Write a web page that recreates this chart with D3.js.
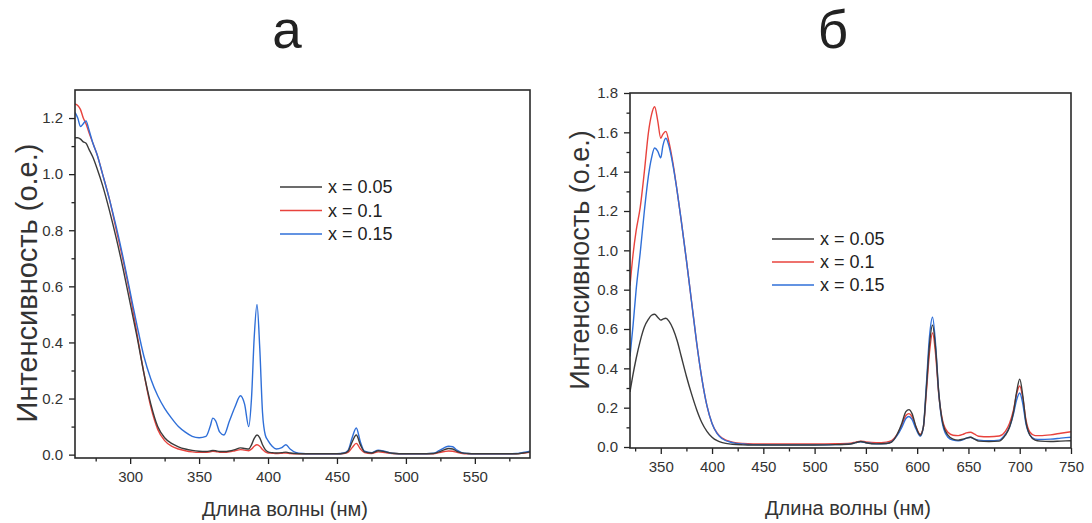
<!DOCTYPE html>
<html>
<head>
<meta charset="utf-8">
<script src="https://cdn.jsdelivr.net/npm/d3@7"></script>
<style>
  html, body { margin: 0; padding: 0; background: #fff; }
  svg { display: block; font-family: "Liberation Sans", Arial, sans-serif; }
</style>
</head>
<body>
<svg id="fig" width="1092" height="523"></svg>
<script>
// ---------- Panel а: excitation spectra (260–590 nm) ----------
const waveA = [260,262,264,266,268,270,273,276,280,285,290,295,300,305,310,315,320,325,330,335,340,345,350,355,358,360,362,365,368,372,376,380,383,386,388,390,392,394,396,398,400,403,406,410,413,416,420,425,430,440,450,455,458,461,464,467,470,475,480,485,490,500,510,520,524,528,531,534,537,540,545,550,560,570,580,585,590];
const a005 = [1.13,1.13,1.125,1.115,1.11,1.09,1.06,1.02,0.96,0.87,0.77,0.66,0.54,0.42,0.29,0.18,0.10,0.06,0.04,0.028,0.02,0.015,0.012,0.011,0.013,0.015,0.014,0.011,0.011,0.013,0.018,0.024,0.022,0.02,0.035,0.058,0.07,0.06,0.035,0.018,0.01,0.007,0.006,0.007,0.009,0.006,0.004,0.003,0.003,0.003,0.003,0.005,0.012,0.045,0.07,0.035,0.01,0.006,0.014,0.01,0.005,0.003,0.003,0.004,0.01,0.018,0.022,0.02,0.012,0.007,0.004,0.003,0.003,0.003,0.003,0.006,0.01];
const a010 = [1.25,1.245,1.23,1.2,1.18,1.15,1.11,1.07,1.0,0.91,0.8,0.69,0.57,0.43,0.29,0.17,0.09,0.05,0.03,0.02,0.014,0.01,0.008,0.008,0.01,0.012,0.011,0.008,0.008,0.01,0.014,0.018,0.016,0.014,0.02,0.03,0.035,0.03,0.018,0.01,0.006,0.005,0.004,0.005,0.006,0.004,0.003,0.003,0.003,0.003,0.003,0.004,0.008,0.025,0.04,0.02,0.007,0.004,0.01,0.007,0.004,0.003,0.003,0.003,0.007,0.011,0.013,0.012,0.008,0.005,0.003,0.003,0.003,0.003,0.003,0.005,0.008];
const a015 = [1.22,1.2,1.17,1.18,1.19,1.16,1.11,1.07,1.0,0.91,0.81,0.7,0.58,0.46,0.35,0.27,0.21,0.165,0.13,0.1,0.08,0.065,0.06,0.065,0.1,0.13,0.12,0.08,0.07,0.12,0.17,0.21,0.18,0.1,0.2,0.42,0.535,0.38,0.15,0.07,0.05,0.03,0.02,0.025,0.035,0.02,0.008,0.004,0.003,0.003,0.003,0.006,0.015,0.06,0.095,0.045,0.012,0.007,0.016,0.011,0.005,0.003,0.003,0.005,0.014,0.025,0.03,0.028,0.016,0.008,0.004,0.003,0.003,0.003,0.004,0.008,0.012];

// ---------- Panel б: emission spectra (320–750 nm) ----------
const waveB = [320,323,326,330,334,338,341,344,347,350,352,355,358,362,366,370,375,380,385,390,395,400,405,410,420,430,440,460,480,500,520,535,540,545,550,560,570,575,580,585,589,592,595,599,603,606,609,612,615,618,621,625,630,635,640,645,648,652,656,660,670,680,686,690,694,697,700,703,706,710,715,720,730,740,750];
const b005 = [0.28,0.37,0.45,0.54,0.61,0.65,0.67,0.675,0.66,0.645,0.65,0.655,0.64,0.6,0.54,0.46,0.36,0.27,0.19,0.125,0.08,0.05,0.032,0.022,0.014,0.011,0.01,0.01,0.01,0.01,0.012,0.015,0.022,0.028,0.022,0.016,0.018,0.025,0.06,0.12,0.18,0.19,0.17,0.1,0.06,0.1,0.3,0.52,0.62,0.5,0.28,0.12,0.06,0.04,0.035,0.04,0.045,0.05,0.04,0.03,0.028,0.03,0.06,0.1,0.18,0.28,0.345,0.26,0.13,0.06,0.035,0.03,0.028,0.03,0.032];
const b010 = [0.82,0.98,1.1,1.22,1.4,1.6,1.69,1.73,1.66,1.57,1.59,1.605,1.55,1.44,1.3,1.15,0.95,0.74,0.53,0.35,0.21,0.12,0.07,0.045,0.025,0.018,0.016,0.016,0.016,0.016,0.017,0.02,0.025,0.03,0.026,0.022,0.025,0.032,0.06,0.11,0.16,0.17,0.155,0.1,0.065,0.1,0.28,0.48,0.58,0.47,0.27,0.13,0.075,0.06,0.058,0.065,0.072,0.075,0.065,0.055,0.052,0.056,0.08,0.12,0.19,0.27,0.31,0.25,0.14,0.075,0.058,0.058,0.062,0.07,0.078];
const b015 = [0.46,0.62,0.8,0.99,1.2,1.38,1.47,1.52,1.505,1.47,1.53,1.57,1.53,1.43,1.3,1.15,0.95,0.74,0.53,0.35,0.21,0.12,0.068,0.042,0.022,0.015,0.012,0.011,0.011,0.011,0.012,0.016,0.022,0.027,0.022,0.016,0.018,0.026,0.055,0.1,0.145,0.155,0.14,0.09,0.055,0.1,0.32,0.56,0.66,0.52,0.28,0.11,0.05,0.035,0.032,0.038,0.045,0.05,0.04,0.035,0.032,0.035,0.065,0.1,0.17,0.24,0.275,0.22,0.12,0.06,0.04,0.038,0.04,0.045,0.05];

// Legend / series styling
const seriesLabels = ["x = 0.05", "x = 0.1", "x = 0.15"];
const seriesColors = ["#3b3b3b", "#e8433d", "#2f6fd8"];

// Axis tick values
const ticksAXMajor = [300,350,400,450,500,550];
const ticksAXMinor = [275,325,375,425,475,525,575];
const ticksAYMajor = [0,0.2,0.4,0.6,0.8,1.0,1.2];
const ticksAYMinor = [0.1,0.3,0.5,0.7,0.9,1.1];
const ticksBXMajor = [350,400,450,500,550,600,650,700,750];
const ticksBXMinor = [325,375,425,475,525,575,625,675,725];
const ticksBYMajor = [0,0.2,0.4,0.6,0.8,1.0,1.2,1.4,1.6,1.8];
const ticksBYMinor = [0.1,0.3,0.5,0.7,0.9,1.1,1.3,1.5,1.7];

const svg = d3.select("#fig");
svg.append("rect").attr("width", 1092).attr("height", 523).attr("fill", "#fff");

function panel(cfg) {
  const x = d3.scaleLinear().domain(cfg.xDomain).range([cfg.left, cfg.right]);
  const y = d3.scaleLinear().domain(cfg.yDomain).range([cfg.bottom, cfg.top]);
  const g = svg.append("g");

  const clipId = "clip-" + cfg.id;
  g.append("clipPath").attr("id", clipId)
    .append("rect")
    .attr("x", cfg.left).attr("y", cfg.top)
    .attr("width", cfg.right - cfg.left).attr("height", cfg.bottom - cfg.top);

  // Spectra
  const line = d3.line()
    .x(d => x(d[0]))
    .y(d => y(d[1]))
    .curve(d3.curveMonotoneX);
  const order = [1, 2, 0];
  order.forEach(i => {
    const pts = cfg.wave.map((w, k) => [w, cfg.series[i][k]]);
    g.append("path")
      .datum(pts)
      .attr("clip-path", `url(#${clipId})`)
      .attr("fill", "none")
      .attr("stroke", seriesColors[i])
      .attr("stroke-width", 1.4)
      .attr("stroke-linejoin", "round")
      .attr("d", line);
  });

  // Axes: major + minor ticks, outward
  const fs = 15;
  const xMaj = g.append("g").attr("transform", `translate(0,${cfg.bottom})`)
    .call(d3.axisBottom(x).tickValues(cfg.xMajor).tickSize(6).tickPadding(7).tickFormat(d3.format("d")));
  const xMin = g.append("g").attr("transform", `translate(0,${cfg.bottom})`)
    .call(d3.axisBottom(x).tickValues(cfg.xMinor).tickSize(3.5).tickFormat(""));
  const yMaj = g.append("g").attr("transform", `translate(${cfg.left},0)`)
    .call(d3.axisLeft(y).tickValues(cfg.yMajor).tickSize(6).tickPadding(6).tickFormat(d3.format(".1f")));
  const yMin = g.append("g").attr("transform", `translate(${cfg.left},0)`)
    .call(d3.axisLeft(y).tickValues(cfg.yMinor).tickSize(3.5).tickFormat(""));
  [xMaj, xMin, yMaj, yMin].forEach(a => {
    a.select(".domain").remove();
    a.selectAll("line").attr("stroke", "#222").attr("stroke-width", 1.3);
    a.selectAll("text").attr("fill", "#333").attr("font-size", fs)
      .attr("font-family", "'Liberation Sans', Arial, sans-serif");
  });

  // Frame
  g.append("rect")
    .attr("x", cfg.left).attr("y", cfg.top)
    .attr("width", cfg.right - cfg.left).attr("height", cfg.bottom - cfg.top)
    .attr("fill", "none").attr("stroke", "#2a2a2a").attr("stroke-width", 1.6);

  // Axis titles
  g.append("text")
    .attr("x", cfg.xTitleX).attr("y", cfg.xTitleY)
    .attr("text-anchor", "middle").attr("font-size", 20).attr("fill", "#333")
    .text("Длина волны (нм)");
  g.append("text")
    .attr("transform", `translate(${cfg.yTitleX},${cfg.yTitleY}) rotate(-90)`)
    .attr("text-anchor", "middle").attr("font-size", cfg.yTitleSize).attr("fill", "#333")
    .text("Интенсивность (о.е.)");

  // Panel letter
  g.append("text")
    .attr("x", cfg.letterX).attr("y", 48)
    .attr("text-anchor", "middle").attr("font-size", 53).attr("fill", "#222")
    .text(cfg.letter);

  // Legend
  seriesLabels.forEach((lab, i) => {
    const ly = cfg.legendY + i * cfg.legendStep;
    g.append("line")
      .attr("x1", cfg.legendX).attr("x2", cfg.legendX + 42)
      .attr("y1", ly).attr("y2", ly)
      .attr("stroke", seriesColors[i]).attr("stroke-width", 1.6);
    g.append("text")
      .attr("x", cfg.legendX + 48).attr("y", ly).attr("dy", "0.35em")
      .attr("font-size", 18).attr("fill", "#222")
      .text(lab);
  });
}

panel({
  id: "a", letter: "а", letterX: 287,
  wave: waveA, series: [a005, a010, a015],
  xDomain: [260, 590], yDomain: [-0.012, 1.3],
  left: 75, right: 530, top: 90, bottom: 458,
  xMajor: ticksAXMajor, xMinor: ticksAXMinor, yMajor: ticksAYMajor, yMinor: ticksAYMinor,
  xTitleX: 285, xTitleY: 516, yTitleX: 37, yTitleY: 283, yTitleSize: 29,
  legendX: 280, legendY: 187, legendStep: 23.5
});

panel({
  id: "b", letter: "б", letterX: 833,
  wave: waveB, series: [b005, b010, b015],
  xDomain: [320, 750], yDomain: [-0.005, 1.8],
  left: 630, right: 1071, top: 93, bottom: 448,
  xMajor: ticksBXMajor, xMinor: ticksBXMinor, yMajor: ticksBYMajor, yMinor: ticksBYMinor,
  xTitleX: 848, xTitleY: 515, yTitleX: 589, yTitleY: 260, yTitleSize: 27,
  legendX: 772, legendY: 239, legendStep: 23
});
</script>
</body>
</html>
